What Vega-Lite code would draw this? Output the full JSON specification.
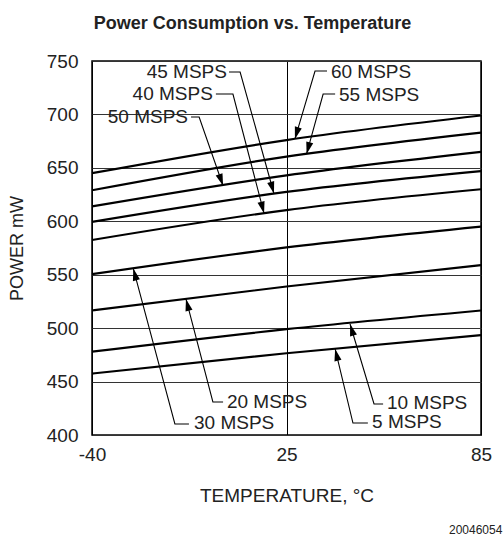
{
  "$schema": "https://vega.github.io/schema/vega-lite/v6.json",
  "width": 389,
  "height": 374,
  "autosize": "none",
  "padding": {"left": 92, "top": 61, "right": 22, "bottom": 103},
  "background": "white",
  "config": {
    "font": "Liberation Sans",
    "view": {"stroke": "black", "strokeWidth": 1.5}
  },
  "title": {
    "text": "Power Consumption vs. Temperature",
    "font": "Liberation Sans",
    "fontSize": 18,
    "fontWeight": "bold",
    "color": "#222222",
    "anchor": "middle",
    "frame": "group",
    "dx": -34,
    "offset": 19
  },
  "datasets": {
    "curves": [
      {"series": "60 MSPS", "t": -40, "p": 645},
      {"series": "60 MSPS", "t": 25, "p": 676},
      {"series": "60 MSPS", "t": 85, "p": 699},
      {"series": "55 MSPS", "t": -40, "p": 629},
      {"series": "55 MSPS", "t": 25, "p": 660.5},
      {"series": "55 MSPS", "t": 85, "p": 683},
      {"series": "50 MSPS", "t": -40, "p": 614},
      {"series": "50 MSPS", "t": 25, "p": 643},
      {"series": "50 MSPS", "t": 85, "p": 665},
      {"series": "45 MSPS", "t": -40, "p": 599.5},
      {"series": "45 MSPS", "t": 25, "p": 627.5},
      {"series": "45 MSPS", "t": 85, "p": 647},
      {"series": "40 MSPS", "t": -40, "p": 582.5},
      {"series": "40 MSPS", "t": 25, "p": 610.5},
      {"series": "40 MSPS", "t": 85, "p": 630},
      {"series": "30 MSPS", "t": -40, "p": 550.5},
      {"series": "30 MSPS", "t": 25, "p": 575.5},
      {"series": "30 MSPS", "t": 85, "p": 595},
      {"series": "20 MSPS", "t": -40, "p": 516.5},
      {"series": "20 MSPS", "t": 25, "p": 539},
      {"series": "20 MSPS", "t": 85, "p": 559},
      {"series": "10 MSPS", "t": -40, "p": 478},
      {"series": "10 MSPS", "t": 25, "p": 499},
      {"series": "10 MSPS", "t": 85, "p": 516.5},
      {"series": "5 MSPS", "t": -40, "p": 457.5},
      {"series": "5 MSPS", "t": 25, "p": 476.5},
      {"series": "5 MSPS", "t": 85, "p": 493.5}
    ],
    "leaders": [
      {"series": "45 MSPS", "k": 1, "t": 5.8, "p": 739.7},
      {"series": "45 MSPS", "k": 2, "t": 9.5, "p": 739.7},
      {"series": "45 MSPS", "k": 3, "t": 20.8, "p": 626},
      {"series": "40 MSPS", "k": 1, "t": 1.4, "p": 719.1},
      {"series": "40 MSPS", "k": 2, "t": 7.1, "p": 719.1},
      {"series": "40 MSPS", "k": 3, "t": 17.5, "p": 607.3},
      {"series": "50 MSPS", "k": 1, "t": -6.9, "p": 697.6},
      {"series": "50 MSPS", "k": 2, "t": -4.2, "p": 697.6},
      {"series": "50 MSPS", "k": 3, "t": 3.8, "p": 633.3},
      {"series": "60 MSPS", "k": 1, "t": 37.5, "p": 740.6},
      {"series": "60 MSPS", "k": 2, "t": 33.8, "p": 740.6},
      {"series": "60 MSPS", "k": 3, "t": 27.6, "p": 677.1},
      {"series": "55 MSPS", "k": 1, "t": 40.0, "p": 719.1},
      {"series": "55 MSPS", "k": 2, "t": 36.3, "p": 719.1},
      {"series": "55 MSPS", "k": 3, "t": 31.2, "p": 663},
      {"series": "30 MSPS", "k": 1, "t": -7.6, "p": 410.3},
      {"series": "30 MSPS", "k": 2, "t": -12.3, "p": 410.3},
      {"series": "30 MSPS", "k": 3, "t": -26.2, "p": 555.7},
      {"series": "20 MSPS", "k": 1, "t": 3.8, "p": 430.9},
      {"series": "20 MSPS", "k": 2, "t": 0.4, "p": 430.9},
      {"series": "20 MSPS", "k": 3, "t": -8.6, "p": 527.3},
      {"series": "10 MSPS", "k": 1, "t": 54.8, "p": 429},
      {"series": "10 MSPS", "k": 2, "t": 52.0, "p": 429},
      {"series": "10 MSPS", "k": 3, "t": 44.6, "p": 503.9},
      {"series": "5 MSPS", "k": 1, "t": 50.1, "p": 411.2},
      {"series": "5 MSPS", "k": 2, "t": 45.5, "p": 411.2},
      {"series": "5 MSPS", "k": 3, "t": 40.0, "p": 480.5}
    ],
    "tips": [
      {"series": "45 MSPS", "t": 20.8, "p": 626, "angle": 164.4},
      {"series": "40 MSPS", "t": 17.5, "p": 607.3, "angle": 165.5},
      {"series": "50 MSPS", "t": 3.8, "p": 633.3, "angle": 160.7},
      {"series": "60 MSPS", "t": 27.6, "p": 677.1, "angle": 196.4},
      {"series": "55 MSPS", "t": 31.2, "p": 663, "angle": 195.2},
      {"series": "30 MSPS", "t": -26.2, "p": 555.7, "angle": -15},
      {"series": "20 MSPS", "t": -8.6, "p": 527.3, "angle": -14.7},
      {"series": "10 MSPS", "t": 44.6, "p": 503.9, "angle": -16.7},
      {"series": "5 MSPS", "t": 40.0, "p": 480.5, "angle": -13.7}
    ],
    "labels": [
      {"label": "45 MSPS", "anchor": "end", "t": 5.1, "p": 739.7},
      {"label": "40 MSPS", "anchor": "end", "t": 0.4, "p": 719.1},
      {"label": "50 MSPS", "anchor": "end", "t": -7.9, "p": 697.6},
      {"label": "60 MSPS", "anchor": "start", "t": 38.7, "p": 739.7},
      {"label": "55 MSPS", "anchor": "start", "t": 41.2, "p": 718.2},
      {"label": "30 MSPS", "anchor": "start", "t": -5.9, "p": 411.2},
      {"label": "20 MSPS", "anchor": "start", "t": 5.1, "p": 430.9},
      {"label": "10 MSPS", "anchor": "start", "t": 56.0, "p": 430.0},
      {"label": "5 MSPS", "anchor": "start", "t": 51.4, "p": 412.2}
    ],
    "figid": [
      {"label": "20046054", "t": 91.6, "p": 311}
    ]
  },
  "encoding": {
    "x": {
      "field": "t",
      "type": "quantitative",
      "scale": {"domain": [-40, 25, 85], "range": [0, 194.5, 389], "nice": false, "zero": false},
      "axis": {
        "values": [-40, 25, 85],
        "labelExpr": "toString(datum.value)",
        "ticks": false,
        "domain": false,
        "grid": true,
        "gridColor": "black",
        "gridWidth": 1,
        "gridOpacity": 1,
        "labelFontSize": 19,
        "labelColor": "#222222",
        "labelPadding": 10,
        "labelFlush": false,
        "labelOverlap": false,
        "title": "TEMPERATURE, °C",
        "titleFontSize": 19,
        "titleFontWeight": "normal",
        "titleColor": "#222222",
        "titlePadding": 22
      }
    },
    "y": {
      "field": "p",
      "type": "quantitative",
      "scale": {"domain": [400, 750], "nice": false, "zero": false},
      "axis": {
        "values": [400, 450, 500, 550, 600, 650, 700, 750],
        "ticks": false,
        "domain": false,
        "grid": true,
        "gridColor": "#333333",
        "gridWidth": 1,
        "gridOpacity": 1,
        "labelFontSize": 19,
        "labelColor": "#222222",
        "labelPadding": 14,
        "labelFlush": false,
        "labelOverlap": false,
        "title": "POWER mW",
        "titleFontSize": 18,
        "titleFontWeight": "normal",
        "titleColor": "#222222",
        "titlePadding": 20
      }
    }
  },
  "layer": [
    {
      "data": {"name": "curves"},
      "mark": {"type": "line", "color": "black", "strokeWidth": 2.2, "interpolate": "monotone"},
      "encoding": {
        "detail": {"field": "series", "type": "nominal"}
      }
    },
    {
      "data": {"name": "leaders"},
      "mark": {"type": "line", "color": "black", "strokeWidth": 1.1},
      "encoding": {
        "detail": {"field": "series", "type": "nominal"},
        "order": {"field": "k", "type": "quantitative"}
      }
    },
    {
      "data": {"name": "tips"},
      "mark": {"type": "point", "shape": "M0,0L-0.6,2L0.6,2Z", "filled": true, "color": "black", "opacity": 1, "size": 144, "strokeWidth": 0},
      "encoding": {
        "angle": {"field": "angle", "type": "quantitative", "scale": null}
      }
    },
    {
      "data": {"name": "labels"},
      "transform": [{"filter": "datum.anchor === 'end'"}],
      "mark": {"type": "text", "align": "right", "baseline": "middle", "fontSize": 19, "color": "#222222"},
      "encoding": {
        "text": {"field": "label"}
      }
    },
    {
      "data": {"name": "labels"},
      "transform": [{"filter": "datum.anchor === 'start'"}],
      "mark": {"type": "text", "align": "left", "baseline": "middle", "fontSize": 19, "color": "#222222"},
      "encoding": {
        "text": {"field": "label"}
      }
    },
    {
      "data": {"name": "figid"},
      "mark": {"type": "text", "align": "right", "baseline": "middle", "fontSize": 12, "color": "#222222"},
      "encoding": {
        "text": {"field": "label"}
      }
    }
  ]
}
